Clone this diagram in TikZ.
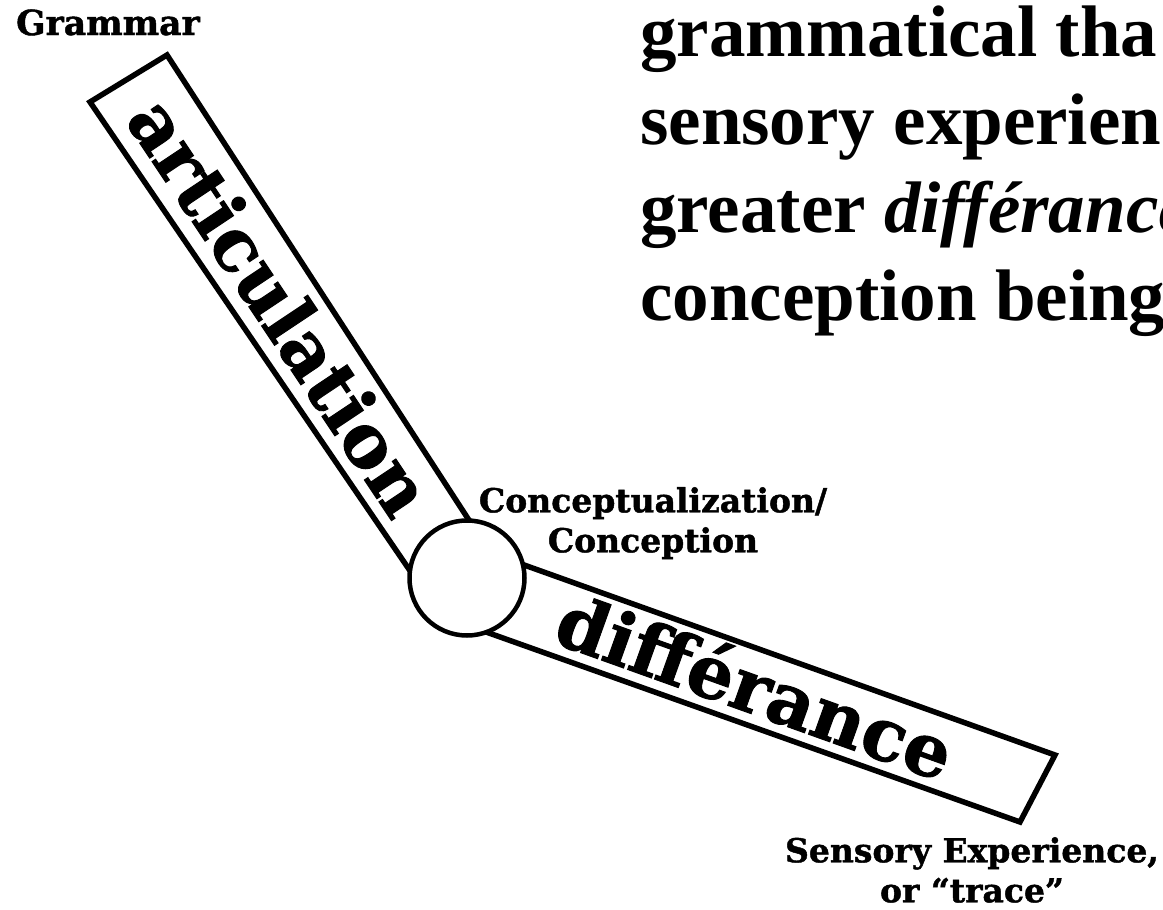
\documentclass[tikz,border=0pt]{standalone}
\usepackage{fontspec}
\setmainfont{Liberation Serif}
\newfontfamily\slabfont{DejaVu Serif}[BoldFeatures={FakeBold=1.3}]
\usetikzlibrary{positioning}

\begin{document}
\begin{tikzpicture}[x=1pt, y=-1pt,
  arm/.style={draw, line width=5.5pt, line join=miter, fill=white},
  hub/.style={draw, circle, line width=4.5pt, fill=white, minimum size=115pt, inner sep=0pt},
  armtext/.style={font=\slabfont\bfseries\fontsize{73}{73}\selectfont, inner sep=0pt},
  lbl/.style={font=\slabfont\bfseries\fontsize{33}{40}\selectfont, inner sep=0pt, align=center}]
\useasboundingbox (0,0) rectangle (1163,910);
\coordinate (a1) at (90,102); \coordinate (a2) at (167,55);
\coordinate (a3) at (489,551); \coordinate (a4) at (430,600);
\coordinate (d1) at (499,556); \coordinate (d2) at (1055,755);
\coordinate (d3) at (1020,822); \coordinate (d4) at (458,622);
\draw[arm] (a1) -- (a2) -- (a3) -- (a4) -- cycle;
\draw[arm] (d1) -- (d2) -- (d3) -- (d4) -- cycle;
\node[hub] (conc) at (467,578) {};
\node[armtext, rotate=-56.3] (artic) at (281,306) {articulation};
\node[armtext, rotate=-19.7] (diffr) at (756,685) {différance};
\node[lbl, anchor=base west, font=\slabfont\bfseries\fontsize{34.5}{40}\selectfont] (gram) at (16,35) {Grammar};
\node[lbl, anchor=north] (conclbl) at (653,487) {Conceptualization/\\Conception};
\node[lbl, anchor=north] (sens) at (972,837) {Sensory Experience,\\or “trace”};
\begin{scope}
\clip (0,0) rectangle (1163,910);
\node[anchor=north west, inner sep=0pt, align=left, font=\bfseries\fontsize{73}{88}\selectfont] (quote) at (640,5.5)
  {grammatical tha\\sensory experien\\greater \textit{différance}\\conception being};
\end{scope}
\end{tikzpicture}
\end{document}
